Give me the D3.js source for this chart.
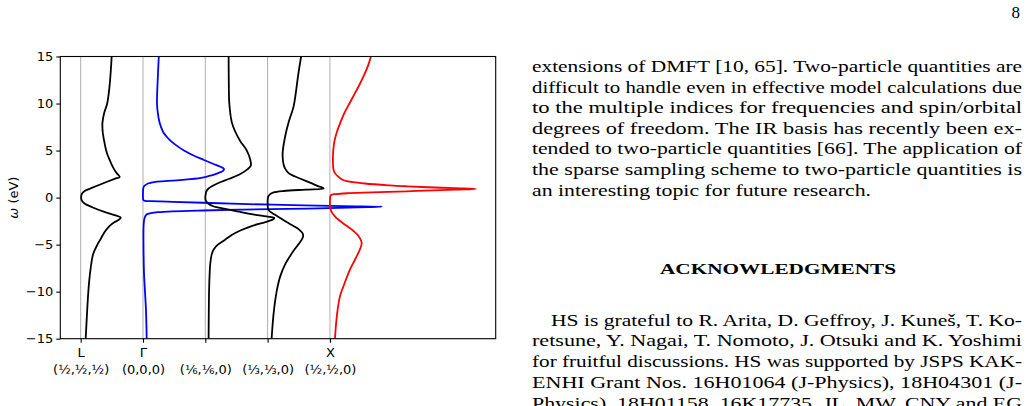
<!DOCTYPE html>
<html><head><meta charset="utf-8">
<script src="https://cdn.jsdelivr.net/npm/d3@7/dist/d3.min.js"></script>
<style>body{margin:0;background:#fff;} svg{display:block;}</style>
</head><body>
<svg id="c" width="1029" height="406"></svg>
<script>
// ---- data ----
const kPositions = [0, 1, 2, 3, 4];
const kNames = ["L", "Γ", "", "", "X"];
const kCoords = ["(½,½,½)", "(0,0,0)", "(⅙,⅙,0)", "(⅓,⅓,0)", "(½,½,0)"];
const omegaTicks = [-15, -10, -5, 0, 5, 10, 15];

// spectral functions A(k, ω) (arb. units), one per k point
const omegaL = [15,12,10,9,8,7,6,5,4.5,4,3.5,3,2.6,2.2,2,1.5,1,0.7,0.4,0.1,-0.3,-0.6,-1,-1.5,-1.9,-2.1,-2.3,-2.6,-3,-3.5,-4,-4.5,-5,-6,-7.5,-9.5,-12,-15];
const specL  = [31,29,26.5,23.5,21.8,22,23.5,25.5,27,29,31,33.5,36,39,34,22,10.5,4,1.2,0.5,1,3.5,11,23,35,40,39,34,29,25,22,19.5,16.7,12.5,10,8,6.5,5];

const omegaG = [15,12,10,9,8,7,6.5,6,5.5,5,4.5,4,3.6,3.3,3.05,2.85,2.6,2.45,2.3,2.1,1.9,1.75,1.65,1.5,1.3,1.1,0.5,0,-0.25,-0.35,-0.38,-0.45,-0.55,-0.67,-0.8,-0.9,-0.96,-1.02,-1.1,-1.2,-1.28,-1.37,-1.46,-1.55,-1.65,-1.8,-2.2,-3,-5,-8,-10,-12,-15];
const specG  = [15.8,14.5,14,14.8,16.5,20,23.5,28,34,41,50,61,70,77,81,80,75,71,66,58,42,22,11,5,2,0.5,0,0,0.3,2,8,30,60,97,150,200,239,225,195,145,100,60,30,15,8,3.5,1.5,0.6,0.5,1,2,3,3.7];

const omegaK6 = [15,12,10,8,7,6,5,4,3.4,3,2.5,2,1.5,1,0.7,0.3,0,-0.3,-0.6,-0.92,-1.2,-1.5,-1.8,-2,-2.15,-2.3,-2.6,-3,-3.5,-4,-4.5,-5,-5.5,-6,-7,-9,-12,-15];
const specK6  = [23.3,23.5,24,26.5,30,35,41.5,45,45.5,42,35,24,12,3.5,1.2,0.3,0,0.4,2.5,8,20,34,49,61,69,68,60,47,35,26,19.5,12.5,8.5,6.5,5,4,3.5,3.3];

const omegaK3 = [15,13,11,9.7,8,6.5,5,4.4,3.5,3,2.6,2.27,2,1.56,1.2,1.05,0.97,0.85,0.7,0.55,0.4,0.25,0.1,0,-0.5,-1.1,-1.4,-1.8,-2.2,-2.6,-3,-3.4,-3.8,-4.1,-4.5,-5,-5.5,-6.2,-7,-8.4,-10,-12.3,-15];
const specK3  = [33.5,30.5,28,26,21,17.5,15.2,15,16,18,21,27,33,43,51,55,56,38,16,6,3,1.5,0.5,0.3,0,0.3,1.5,7,13,19,25.5,31.5,35,35.5,34,30.5,27,22.5,18,12.5,9,6,4];

const omegaX = [15,14,13,12,11,10,9,8,7,6,5,4,3,2.6,2.2,1.9,1.74,1.5,1.3,1.2,1.1,1,0.92,0.85,0.75,0.67,0.55,0.46,0.38,0.32,0.2,0,-1.1,-1.5,-2,-2.3,-2.8,-3.5,-4,-4.8,-5.5,-6.5,-7.66,-9,-10.5,-12.5,-15];
const specX  = [41,38,34,29.5,24.5,19.5,14.5,10.5,7,4.5,3.3,3,3.5,5,8.5,12.5,17,35,60,77,98,125,146,125,95,77,42,17,6,2,0.5,0.2,0.3,1.5,5,8,14,23,28,31.7,30,25.5,20,15,10,7,5];

// page text
const pageNumber = "8";
const para1 = [
  "extensions of DMFT [10, 65].  Two-particle quantities are",
  "difficult to handle even in effective model calculations due",
  "to the multiple indices for frequencies and spin/orbital",
  "degrees of freedom.  The IR basis has recently been ex-",
  "tended to two-particle quantities [66].  The application of",
  "the sparse sampling scheme to two-particle quantities is",
  "an interesting topic for future research."
];
const ackTitle = "ACKNOWLEDGMENTS";
const para2 = [
  "HS is grateful to R. Arita, D. Geffroy, J. Kuneš, T. Ko-",
  "retsune, Y. Nagai, T. Nomoto, J. Otsuki and K. Yoshimi",
  "for fruitful discussions.  HS was supported by JSPS KAK-",
  "ENHI Grant Nos.  16H01064 (J-Physics), 18H04301 (J-",
  "Physics), 18H01158, 16K17735.  JL, MW, CNY and EG"
];

// ---- drawing ----
const svg = d3.select("#c");
const plot = {left: 60.3, right: 495.7, top: 56.5, bottom: 338.7};
const x = d3.scaleLinear().domain([-0.327, 6.66]).range([plot.left, plot.right]);
const y = d3.scaleLinear().domain([-15, 15]).range([plot.bottom, plot.top]);
const specToK = 1 / 62.3;

const series = [
  {k: kPositions[0], om: omegaL, a: specL, color: "#000000"},
  {k: kPositions[1], om: omegaG, a: specG, color: "#0000ff"},
  {k: kPositions[2], om: omegaK6, a: specK6, color: "#000000"},
  {k: kPositions[3], om: omegaK3, a: specK3, color: "#000000"},
  {k: kPositions[4], om: omegaX, a: specX, color: "#ff0000"}
];

svg.append("defs").append("clipPath").attr("id", "clip")
  .append("rect").attr("x", plot.left).attr("y", plot.top)
  .attr("width", plot.right - plot.left).attr("height", plot.bottom - plot.top);

// grid
svg.append("g").selectAll("line").data(kPositions).join("line")
  .attr("x1", d => x(d)).attr("x2", d => x(d))
  .attr("y1", plot.top).attr("y2", plot.bottom)
  .attr("stroke", "#b0b0b0").attr("stroke-width", 1);

// curves
const line = d3.line().curve(d3.curveCatmullRom.alpha(0.5));
svg.append("g").attr("clip-path", "url(#clip)").selectAll("path").data(series).join("path")
  .attr("d", s => line(s.om.map((w, i) => [x(s.k + s.a[i] * specToK), y(w)])))
  .attr("fill", "none").attr("stroke", s => s.color).attr("stroke-width", 1.8)
  .attr("stroke-linejoin", "round");

// frame
svg.append("rect").attr("x", plot.left).attr("y", plot.top)
  .attr("width", plot.right - plot.left).attr("height", plot.bottom - plot.top)
  .attr("fill", "none").attr("stroke", "#000").attr("stroke-width", 1.1);

const fontSans = "'DejaVu Sans', sans-serif";
// y axis
const yAxis = d3.axisLeft(y).tickValues(omegaTicks).tickSize(4).tickPadding(3)
  .tickFormat(d => d < 0 ? "\u2212" + Math.abs(d) : String(d));
const gy = svg.append("g").attr("transform", `translate(${plot.left},0)`).call(yAxis);
gy.select(".domain").remove();
gy.selectAll("line").attr("stroke", "#000").attr("stroke-width", 1.1);
gy.selectAll("text").attr("font-family", fontSans).attr("font-size", 13).attr("fill", "#000");

// x axis
const xAxis = d3.axisBottom(x).tickValues(kPositions).tickSize(4).tickFormat("");
const gx = svg.append("g").attr("transform", `translate(0,${plot.bottom})`).call(xAxis);
gx.select(".domain").remove();
gx.selectAll("line").attr("stroke", "#000").attr("stroke-width", 1.1);
gx.selectAll(".tick").each(function(d, i) {
  const t = d3.select(this).append("text").attr("fill", "#000")
    .attr("font-family", fontSans).attr("font-size", 13).attr("text-anchor", "middle");
  t.append("tspan").attr("x", 0).attr("y", 18).text(kNames[i]);
  t.append("tspan").attr("x", 0).attr("y", 35).text(kCoords[i]);
});

// y label
svg.append("text").attr("transform", `translate(18,${y(0)}) rotate(-90)`)
  .attr("text-anchor", "middle").attr("font-family", fontSans).attr("font-size", 13)
  .call(t => { t.append("tspan").attr("font-style", "italic").text("ω"); t.append("tspan").text(" (eV)"); });

// ---- right column text ----
const serif = "'Liberation Serif', 'Times New Roman', serif";
const colL = 532, colR = 1022;
svg.append("text").attr("x", 1020).attr("y", 18).attr("text-anchor", "end")
  .attr("font-family", serif).attr("font-size", 17).text(pageNumber);

const lineGap = 20.6;
para1.forEach((s, i) => {
  const t = svg.append("text").attr("x", colL).attr("y", 72 + i * lineGap)
    .attr("font-family", serif).attr("font-size", 17).text(s);
  if (i < para1.length - 1) t.attr("textLength", colR - colL).attr("lengthAdjust", "spacingAndGlyphs");
  else t.attr("textLength", 871 - colL).attr("lengthAdjust", "spacingAndGlyphs");
});
svg.append("text").attr("x", 660).attr("y", 274).attr("font-family", serif)
  .attr("font-size", 15.5).attr("font-weight", "bold")
  .attr("textLength", 236).attr("lengthAdjust", "spacingAndGlyphs").text(ackTitle);
para2.forEach((s, i) => {
  const x0 = i === 0 ? 551 : colL;
  svg.append("text").attr("x", x0).attr("y", 325.5 + i * 20.9)
    .attr("font-family", serif).attr("font-size", 17)
    .attr("textLength", colR - x0).attr("lengthAdjust", "spacingAndGlyphs").text(s);
});
</script>
</body></html>
